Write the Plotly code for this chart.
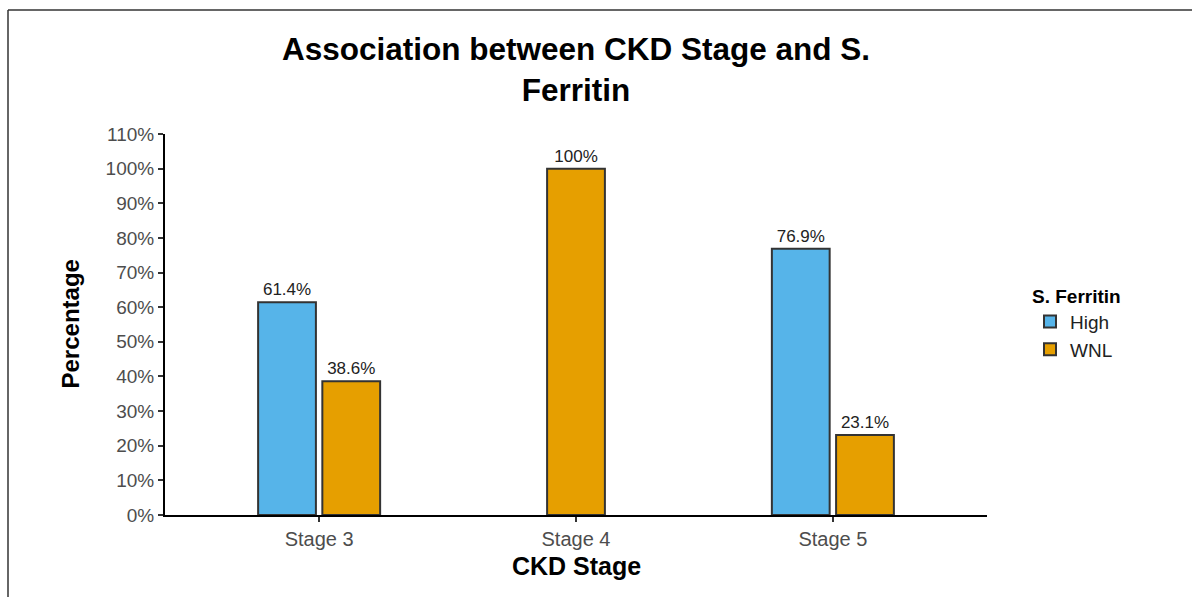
import plotly.graph_objects as go

stages = ["Stage 3", "Stage 4", "Stage 5"]
high_pct = [61.4, None, 76.9]
wnl_pct = [38.6, 100.0, 23.1]
y_ticks = list(range(0, 111, 10))
y_tick_labels = [f"{t}%" for t in y_ticks]

series = [("High", high_pct, "#56B4E9"), ("WNL", wnl_pct, "#E69F00")]

dodge = 0.5
bar_w = 0.225
FONT = "Liberation Sans, Arial, Helvetica, sans-serif"

fig = go.Figure()
for gi, (name, vals, color) in enumerate(series):
    offsets, widths = [], []
    for i in range(len(stages)):
        present = [j for j, (_, v, _) in enumerate(series) if v[i] is not None]
        n = len(present)
        if vals[i] is None:
            offsets.append(0)
            widths.append(bar_w)
            continue
        k = present.index(gi)
        center = -dodge / 2 + (dodge / 2) * (k + 0.5) if n > 1 else 0.0
        offsets.append(center - bar_w / 2)
        widths.append(bar_w)
    fig.add_trace(go.Bar(
        x=stages, y=vals, name=name,
        marker=dict(color=color, line=dict(color="#333333", width=2)),
        offset=offsets, width=widths,
        text=[f"{v:g}%" if v is not None else "" for v in vals],
        textposition="outside",
        textfont=dict(size=17, color="#222222", family=FONT),
        cliponaxis=False,
    ))

L, R, T, B = 165, 205, 134, 82
W, H = 1192, 597
pw, ph = W - L - R, H - T - B

fig.update_layout(
    width=W, height=H,
    barmode="overlay",
    plot_bgcolor="white", paper_bgcolor="white",
    margin=dict(l=L, r=R, t=T, b=B),
    font=dict(family=FONT),
    title=dict(text="<b>Association between CKD Stage and S.<br>Ferritin</b>",
               x=0.5, xref="paper", xanchor="center",
               y=1 - 60 / H, yanchor="middle",
               font=dict(size=31.5, color="black", family=FONT)),
    legend=dict(title=dict(text="<b>S. Ferritin</b>", font=dict(size=19, color="black")),
                font=dict(size=19, color="#222222"),
                x=(1030 - L) / pw, xanchor="left",
                y=(T + ph - 278) / ph, yanchor="top",
                bgcolor="rgba(0,0,0,0)", tracegroupgap=0),
    showlegend=True,
)
fig.update_xaxes(
    type="category", range=[-0.6, 2.6],
    showline=True, linecolor="black", linewidth=2,
    ticks="outside", ticklen=5, tickcolor="#333333", tickwidth=1.5,
    tickfont=dict(size=20, color="#4D4D4D"),
    showgrid=False, zeroline=False,
)
fig.update_yaxes(
    range=[0, 110], tickvals=y_ticks, ticktext=y_tick_labels,
    showline=True, linecolor="black", linewidth=2,
    ticks="outside", ticklen=5, tickcolor="#333333", tickwidth=1.5,
    tickfont=dict(size=19, color="#4D4D4D"),
    showgrid=False, zeroline=False,
)
fig.add_annotation(text="<b>CKD Stage</b>", xref="paper", yref="paper",
                   x=0.5, y=-(566 - (T + ph)) / ph, xanchor="center", yanchor="middle",
                   showarrow=False, font=dict(size=25, color="black"))
fig.add_annotation(text="<b>Percentage</b>", xref="paper", yref="paper",
                   x=(70 - L) / pw, y=0.5, xanchor="center", yanchor="middle",
                   textangle=-90, showarrow=False, font=dict(size=24, color="black"))
# outer border (top and left edges)
x_left = (8 - L) / pw
x_right = (W - L) / pw
y_top = 1 + (T - 10) / ph
y_bot = -B / ph
fig.add_shape(type="line", xref="paper", yref="paper", x0=x_left, x1=x_right, y0=y_top, y1=y_top,
              line=dict(color="#333333", width=1.5))
fig.add_shape(type="line", xref="paper", yref="paper", x0=x_left, x1=x_left, y0=y_top, y1=y_bot,
              line=dict(color="#333333", width=1.5))

fig.write_html("out.html", config={"displayModeBar": False},
               post_script="document.body.style.margin='0';document.body.style.padding='0';")
